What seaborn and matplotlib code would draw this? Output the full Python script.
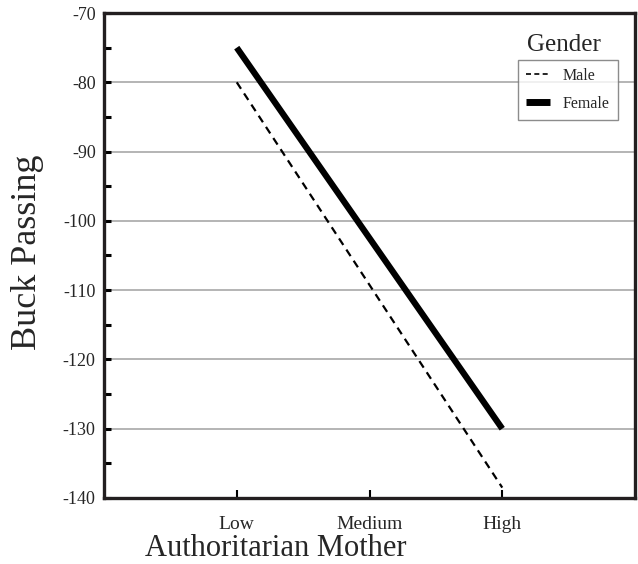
import matplotlib
matplotlib.use("Agg")
import matplotlib.pyplot as plt
import seaborn as sns
import pandas as pd
from matplotlib.lines import Line2D

# Data
levels = ["Low", "Medium", "High"]
male = [-80, -109.25, -138.5]
female = [-75, -102.5, -130]
y_ticks = [-140, -130, -120, -110, -100, -90, -80, -70]

df = pd.DataFrame({
    "Authoritarian Mother": levels * 2,
    "Buck Passing": male + female,
    "Gender": ["Male"] * 3 + ["Female"] * 3,
})
df["x"] = df["Authoritarian Mother"].map({k: i for i, k in enumerate(levels)})

sns.set_style("white")
plt.rcParams["font.family"] = ["Liberation Serif", "DejaVu Serif"]

fig = plt.figure(figsize=(6.38, 5.64), dpi=100)
ax = fig.add_axes([104 / 638, 1 - 498 / 564, 531 / 638, 485 / 564])

sns.lineplot(data=df[df["Gender"] == "Male"], x="x", y="Buck Passing",
             color="black", linewidth=1.6, linestyle=(0, (3.5, 2.5)), ax=ax,
             legend=False)
sns.lineplot(data=df[df["Gender"] == "Female"], x="x", y="Buck Passing",
             color="black", linewidth=4.5, ax=ax, legend=False,
             solid_capstyle="butt")

ax.set_xlim(-1, 3)
ax.set_ylim(-140, -70)
ax.set_xticks(range(len(levels)))
ax.set_xticklabels(levels, fontsize=14)
ax.set_yticks(y_ticks)
ax.set_yticklabels([str(v) for v in y_ticks], fontsize=13)
ax.set_yticks([-135, -125, -115, -105, -95, -85, -75], minor=True)

for v in y_ticks[1:-1]:
    ax.axhline(v, color="#b4b4b4", linewidth=1.4, zorder=0)

ax.tick_params(axis="both", which="both", direction="in", length=5,
               width=2.2, color="black", pad=6, left=True, bottom=True)
ax.tick_params(axis="x", which="major", length=6, width=1.5, pad=13)

for s in ax.spines.values():
    s.set_visible(True)
    s.set_color("#231f20")
    s.set_linewidth(2.4)

ax.set_xlabel("Authoritarian Mother", fontsize=22)
ax.xaxis.set_label_coords((276 - 104) / 531, -(548 - 498) / 485)
ax.xaxis.label.set_va("center")
ax.set_ylabel("Buck Passing", fontsize=26)
ax.yaxis.set_label_coords(-(104 - 28) / 531, (498 - 252) / 485)
ax.yaxis.label.set_va("center")

handles = [
    Line2D([], [], color="black", linewidth=1.2, linestyle=(0, (3, 2))),
    Line2D([], [], color="black", linewidth=5, solid_capstyle="butt"),
]
leg = ax.legend(handles, ["Male", "Female"], loc="upper left",
                bbox_to_anchor=((518 - 104) / 531, (498 - 60) / 485),
                fontsize=11.5, frameon=True, fancybox=False, handlelength=1.5,
                borderpad=0.5, labelspacing=0.75, handletextpad=0.8,
                borderaxespad=0)
leg.get_frame().set_edgecolor("#707070")
leg.get_frame().set_linewidth(1.0)
ax.text((564 - 104) / 531, (498 - 45) / 485, "Gender", transform=ax.transAxes,
        ha="center", va="center", fontsize=18)

fig.savefig("out.png", dpi=100)
